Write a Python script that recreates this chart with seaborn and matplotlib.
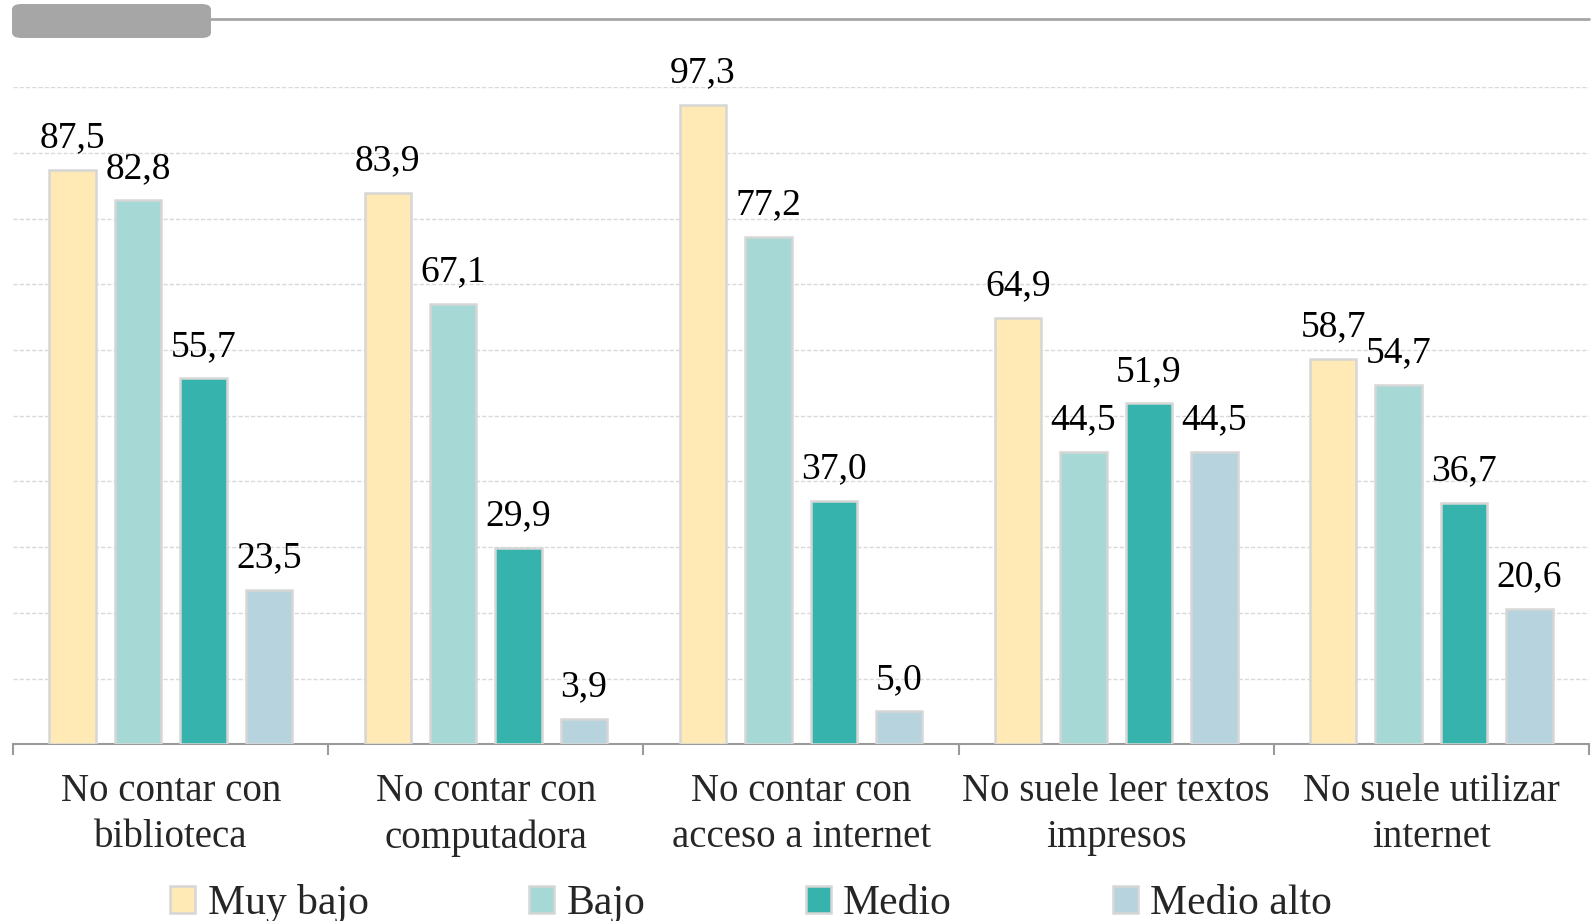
import matplotlib
matplotlib.use('Agg')
import matplotlib.pyplot as plt
from matplotlib.patches import FancyBboxPatch
from matplotlib.lines import Line2D
import numpy as np
import pandas as pd
import seaborn as sns

categorias = ['No contar con\nbiblioteca', 'No contar con\ncomputadora',
              'No contar con\nacceso a internet', 'No suele leer textos\nimpresos',
              'No suele utilizar\ninternet']
niveles = ['Muy bajo', 'Bajo', 'Medio', 'Medio alto']
muy_bajo = [87.5, 83.9, 97.3, 64.9, 58.7]
bajo = [82.8, 67.1, 77.2, 44.5, 54.7]
medio = [55.7, 29.9, 37.0, 51.9, 36.7]
medio_alto = [23.5, 3.9, 5.0, 44.5, 20.6]
colores = ['#FFE9B4', '#A6D9D6', '#37B3AD', '#B6D3DE']

rows = []
for nivel, vals in zip(niveles, [muy_bajo, bajo, medio, medio_alto]):
    for c, v in zip(categorias, vals):
        rows.append({'categoria': c, 'nivel': nivel, 'valor': v})
df = pd.DataFrame(rows)

sns.set_style('white')
plt.rcParams['font.family'] = ['Liberation Serif', 'DejaVu Serif']

fig = plt.figure(figsize=(15.91, 9.21), dpi=100)
ax = fig.add_axes([0.0083, 0.192, 0.9904, 0.713])

sns.barplot(data=df, x='categoria', y='valor', hue='nivel', palette=colores,
            saturation=1, width=0.83, gap=0.29, edgecolor='#d6d6d6', linewidth=1.8,
            errorbar=None, ax=ax, zorder=3)

# value labels with decimal comma
for cont in ax.containers:
    ax.bar_label(cont, labels=[f'{v:.1f}'.replace('.', ',') for v in cont.datavalues],
                 padding=10.5, fontsize=27, color='black')

ax.set_ylim(0, 100)
ax.set_xlim(-0.5, 4.5)
ax.set_yticks([])
for y in range(10, 101, 10):
    ax.axhline(y, color='#d9d9d9', lw=1.0, linestyle=(0, (3, 1.5)), zorder=0)

for s in ['top', 'right', 'left']:
    ax.spines[s].set_visible(False)
ax.spines['bottom'].set_color('#9a9a9a')
ax.spines['bottom'].set_linewidth(1.5)

ax.set_xticks(range(len(categorias)))
ax.set_xticklabels(categorias, fontsize=28, linespacing=1.32)
ax.set_xticks(np.arange(-0.5, 4.6, 1), minor=True)
ax.tick_params(axis='x', which='major', length=0, pad=21)
ax.tick_params(axis='x', which='minor', length=8, width=1.5, color='#9a9a9a', bottom=True)
ax.set_xlabel('')
ax.set_ylabel('')

handles, labels = ax.get_legend_handles_labels()
ax.get_legend().remove()
fig.legend(handles, labels, loc='center', bbox_to_anchor=(0.472, 0.019), ncol=4,
           frameon=False, fontsize=30, handlelength=0.6, handleheight=0.6,
           handletextpad=0.3, columnspacing=3.85)

# header decoration
W, H = 1591, 921
fig.patches.append(FancyBboxPatch((12 / W, 1 - 38 / H), 199 / W, 34 / H,
                                  boxstyle='round,pad=0,rounding_size=0.006',
                                  transform=fig.transFigure, facecolor='#a6a6a6',
                                  edgecolor='none'))
fig.lines.append(Line2D([211 / W, 1589 / W], [1 - 19.5 / H, 1 - 19.5 / H],
                        transform=fig.transFigure, color='#a6a6a6', lw=2))

fig.savefig('out.png', dpi=100)
